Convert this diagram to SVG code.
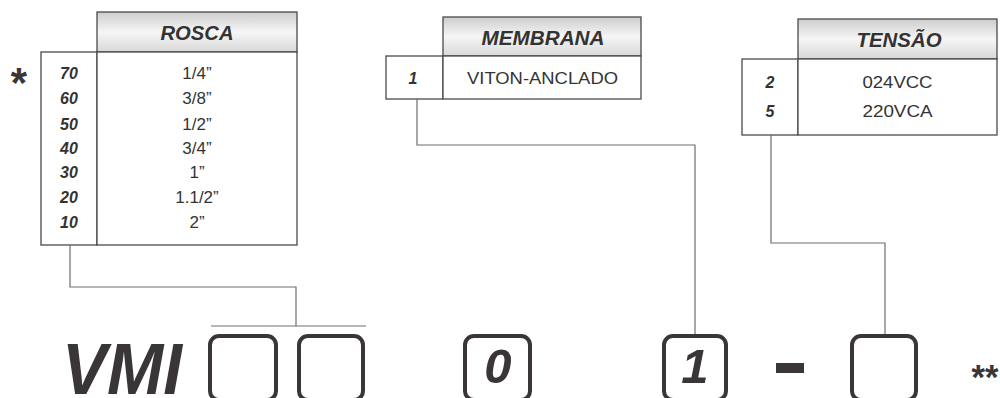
<svg xmlns="http://www.w3.org/2000/svg" width="1000" height="398" viewBox="0 0 1000 398">
<defs>
<linearGradient id="hdr" x1="0" y1="0" x2="0" y2="1">
<stop offset="0" stop-color="#cdcdcd"/>
<stop offset="0.5" stop-color="#f6f6f6"/>
<stop offset="1" stop-color="#d8d8d8"/>
</linearGradient>
<style>
.tb{fill:#fff;stroke:#4a4a4a;stroke-width:1.3}
.hd{fill:url(#hdr);stroke:#4a4a4a;stroke-width:1.3}
.ht{font-family:"Liberation Sans",Arial,sans-serif;font-weight:bold;font-style:italic;font-size:20px;fill:#333;text-anchor:middle}
.cd{font-family:"Liberation Sans",Arial,sans-serif;font-weight:bold;font-style:italic;font-size:16px;fill:#333;text-anchor:middle}
.vl{font-family:"Liberation Sans",Arial,sans-serif;font-size:17px;fill:#333;text-anchor:middle}
.cn{fill:none;stroke:#6e6e6e;stroke-width:1.2}
.bx{fill:#fff;stroke:#3a3637;stroke-width:4}
.big{font-family:"Liberation Sans",Arial,sans-serif;font-weight:bold;font-style:italic;fill:#3a3637}
</style>
</defs>
<rect width="1000" height="398" fill="#fff"/>

<g id="rosca">
<rect class="hd" x="97" y="12" width="200" height="40"/>
<rect class="tb" x="41" y="52" width="56" height="193"/>
<rect class="tb" x="97" y="52" width="200" height="193"/>
<text class="ht" x="197" y="40" textLength="73" lengthAdjust="spacingAndGlyphs">ROSCA</text>
<text class="cd" x="69" y="79">70</text>
<text class="cd" x="69" y="104">60</text>
<text class="cd" x="69" y="130">50</text>
<text class="cd" x="69" y="154">40</text>
<text class="cd" x="69" y="178">30</text>
<text class="cd" x="69" y="203">20</text>
<text class="cd" x="69" y="228">10</text>
<text class="vl" x="197" y="79">1/4”</text>
<text class="vl" x="197" y="104">3/8”</text>
<text class="vl" x="197" y="130">1/2”</text>
<text class="vl" x="197" y="154">3/4”</text>
<text class="vl" x="197" y="178">1”</text>
<text class="vl" x="197" y="203">1.1/2”</text>
<text class="vl" x="197" y="228">2”</text>
</g>
<text class="big" x="9" y="97" font-size="42">*</text>

<g id="membrana">
<rect class="hd" x="443" y="17" width="198" height="39"/>
<rect class="tb" x="386" y="56" width="57" height="43"/>
<rect class="tb" x="443" y="56" width="198" height="43"/>
<text class="ht" x="543" y="45" textLength="123" lengthAdjust="spacingAndGlyphs">MEMBRANA</text>
<text class="cd" x="413" y="84" font-size="15">1</text>
<text class="vl" x="542.5" y="84" textLength="151" lengthAdjust="spacingAndGlyphs">VITON-ANCLADO</text>
</g>

<g id="tensao">
<rect class="hd" x="798" y="19" width="199" height="40"/>
<rect class="tb" x="742" y="59" width="56" height="76"/>
<rect class="tb" x="798" y="59" width="199" height="76"/>
<text class="ht" x="899" y="47" textLength="85" lengthAdjust="spacingAndGlyphs">TENSÃO</text>
<text class="cd" x="770" y="88">2</text>
<text class="cd" x="770" y="117">5</text>
<text class="vl" x="897.5" y="88" textLength="70" lengthAdjust="spacingAndGlyphs">024VCC</text>
<text class="vl" x="897.5" y="117" textLength="70" lengthAdjust="spacingAndGlyphs">220VCA</text>
</g>

<g id="connectors">
<polyline class="cn" points="70,245 70,287 296,287 296,326"/>
<line class="cn" x1="211" y1="326" x2="366" y2="326"/>
<polyline class="cn" points="417,99 417,145 695,145 695,334"/>
<polyline class="cn" points="771,135 771,243 885,243 885,334"/>
</g>

<g id="code">
<text class="big" x="62" y="394" font-size="73" textLength="120" lengthAdjust="spacingAndGlyphs">VMI</text>
<rect class="bx" x="210" y="336" width="66" height="64" rx="9"/>
<rect class="bx" x="299" y="336" width="64" height="64" rx="9"/>
<rect class="bx" x="465" y="336" width="65" height="64" rx="9"/>
<text class="big" x="498" y="383" font-size="49" text-anchor="middle">0</text>
<rect class="bx" x="664" y="336" width="62" height="64" rx="9"/>
<text class="big" x="695" y="383" font-size="49" text-anchor="middle">1</text>
<rect x="776" y="363" width="28" height="10" fill="#3a3637"/>
<rect class="bx" x="852" y="336" width="64" height="64" rx="9"/>
<text class="big" x="970" y="389" font-size="35">**</text>
</g>
</svg>
